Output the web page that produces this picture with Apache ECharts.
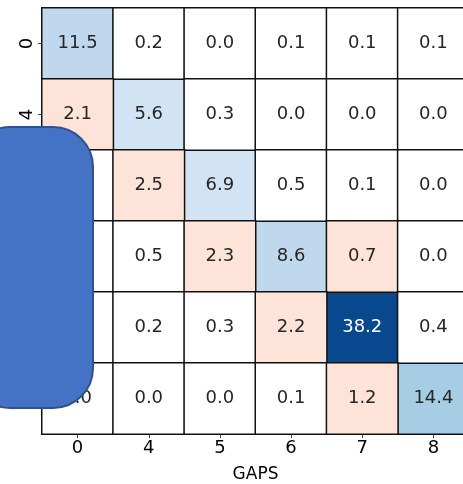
<!DOCTYPE html>
<html>
<head>
<meta charset="utf-8">
<script src="https://cdn.jsdelivr.net/npm/echarts@6/dist/echarts.min.js"></script>
<style>
html,body{margin:0;padding:0;background:#fff;}
#chart{width:463px;height:484px;}
</style>
</head>
<body>
<div id="chart"></div>
<script>
// Gap categories on both axes
const gaps = ['0', '4', '5', '6', '7', '8'];
// Cell values, one row per y category (top to bottom)
const row0 = [11.5, 0.2, 0.0, 0.1, 0.1, 0.1];
const row4 = [2.1, 5.6, 0.3, 0.0, 0.0, 0.0];
const row5 = [0.1, 2.5, 6.9, 0.5, 0.1, 0.0];
const row6 = [0.0, 0.5, 2.3, 8.6, 0.7, 0.0];
const row7 = [0.0, 0.2, 0.3, 2.2, 38.2, 0.4];
const row8 = [0.0, 0.0, 0.0, 0.1, 1.2, 14.4];
const rows = [row0, row4, row5, row6, row7, row8];

const diag = [], offDiag = [];
rows.forEach((r, yi) => {
  r.forEach((v, xi) => {
    (xi === yi ? diag : offDiag).push([xi, yi, v]);
  });
});

const FONT = 'DejaVu Sans';
const cellLabel = {
  show: true,
  fontFamily: FONT,
  fontSize: 18,
  color: '#262626',
  formatter: p => p.value[2].toFixed(1)
};

const chart = echarts.init(document.getElementById('chart'));
chart.setOption({
  animation: false,
  grid: { left: 42, top: 8, right: -6, bottom: 50, containLabel: false, outerBoundsMode: 'none' },
  xAxis: {
    type: 'category',
    data: gaps,
    name: 'GAPS',
    nameLocation: 'middle',
    nameGap: 32,
    nameTextStyle: { fontFamily: FONT, fontSize: 17, color: '#000' },
    axisLine: { show: true, lineStyle: { color: '#666', width: 1 } },
    axisTick: { show: true, alignWithLabel: true, length: 4, lineStyle: { color: '#444' } },
    axisLabel: { fontFamily: FONT, fontSize: 18, color: '#000', margin: 5 },
    splitArea: { show: false }
  },
  yAxis: {
    type: 'category',
    data: gaps,
    inverse: true,
    axisLine: { show: true, lineStyle: { color: '#666', width: 1 } },
    axisTick: { show: true, alignWithLabel: true, length: 4, lineStyle: { color: '#444' } },
    axisLabel: { fontFamily: FONT, fontSize: 18, color: '#000', rotate: 90, margin: 6 }
  },
  visualMap: [
    {
      type: 'piecewise', show: false, seriesIndex: 0, dimension: 2,
      pieces: [
        { min: 0, max: 7, color: '#d2e3f3' },
        { min: 7, max: 13, color: '#bfd8ed' },
        { min: 13, max: 20, color: '#a6cde3' },
        { min: 20, color: '#08488e' }
      ]
    },
    {
      type: 'piecewise', show: false, seriesIndex: 1, dimension: 2,
      pieces: [
        { min: 0, max: 0.6, color: '#ffffff' },
        { min: 0.6, color: '#fee4d8' }
      ]
    }
  ],
  series: [
    {
      type: 'heatmap',
      // dark cells get white text
      data: diag.map(d => d[2] > 20
        ? { value: d, label: { color: '#ffffff' } }
        : { value: d }),
      itemStyle: { borderColor: '#111', borderWidth: 1.5 },
      label: cellLabel
    },
    {
      type: 'heatmap',
      data: offDiag,
      itemStyle: { borderColor: '#111', borderWidth: 1.5 },
      label: cellLabel
    }
  ],
  graphic: [
    {
      type: 'rect',
      z: 100,
      shape: { x: -30, y: 127, width: 123, height: 281, r: 40 },
      style: { fill: '#4472c4', stroke: '#2f528f', lineWidth: 2 }
    }
  ]
});
</script>
</body>
</html>
